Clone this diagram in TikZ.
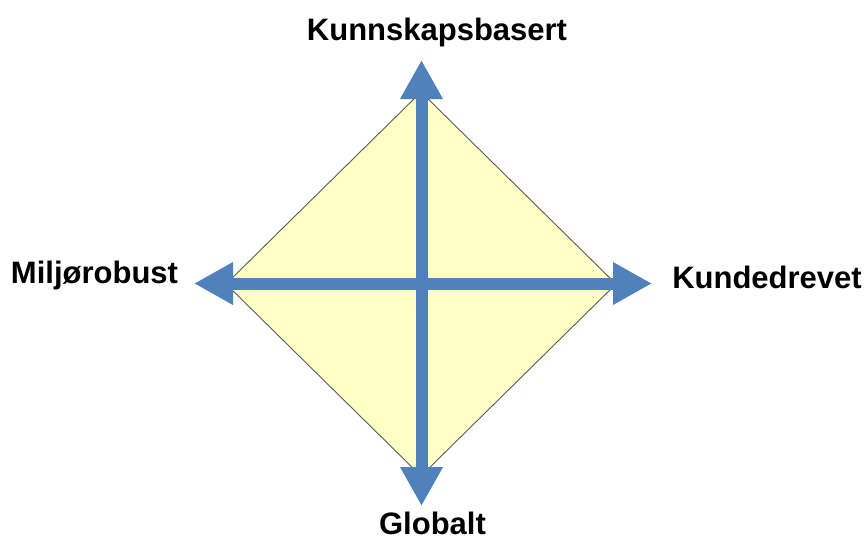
\documentclass[tikz,border=0pt]{standalone}
\usepackage{fontspec}
\setmainfont{Liberation Sans}
\usetikzlibrary{arrows.meta}
\definecolor{axisblue}{HTML}{4F81BD}
\definecolor{fieldyellow}{HTML}{FFFFC6}

\begin{document}
\begin{tikzpicture}[
    x=1pt, y=-1pt,
    field/.style={draw=black!65, fill=fieldyellow, line width=0.9pt},
    axis/.style={draw=axisblue, line width=12pt,
                 {Triangle[length=39pt, width=40pt]}-{Triangle[length=39pt, width=40pt]}},
    pole/.style={font=\fontsize{31}{36}\selectfont\bfseries, inner sep=0pt}
]
    \useasboundingbox (0,0) rectangle (867,539);

    % corners of the field
    \coordinate (top)    at (421,92);
    \coordinate (right)  at (616,284);
    \coordinate (bottom) at (421,476);
    \coordinate (left)   at (226,284);
    \filldraw[field] (top) -- (right) -- (bottom) -- (left) -- cycle;

    % ends of the two axes
    \coordinate (n) at (421.5,60);
    \coordinate (s) at (421.5,506);
    \coordinate (w) at (194,283.5);
    \coordinate (e) at (652,283.5);
    \draw[axis] (s) -- (n);
    \draw[axis] (w) -- (e);

    \node[pole, anchor=base] (knowledge) at (437,40)   {Kunnskapsbasert};
    \node[pole, anchor=base] (customer)  at (767,288)  {Kundedrevet};
    \node[pole, anchor=base] (global)    at (432.5,534) {Globalt};
    \node[pole, anchor=base] (green)     at (94.5,283) {Miljørobust};
\end{tikzpicture}
\end{document}
